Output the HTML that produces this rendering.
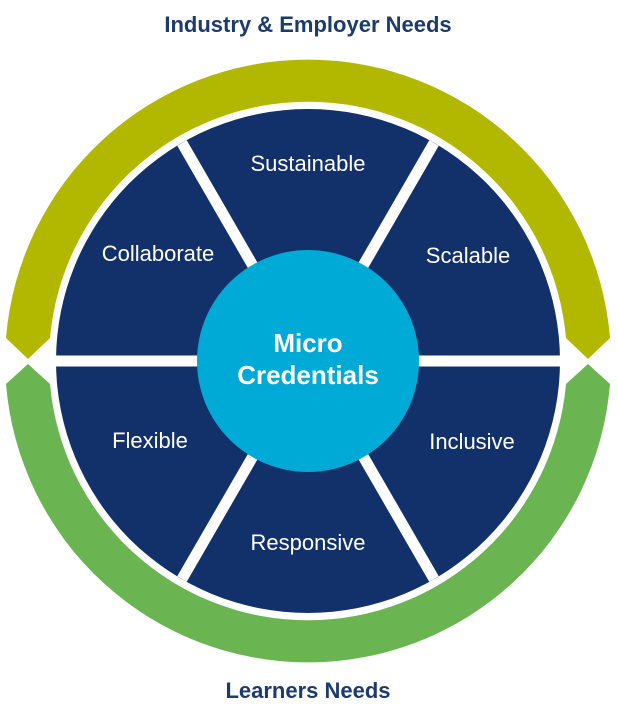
<!DOCTYPE html>
<html><head><meta charset="utf-8"><style>
html,body{margin:0;padding:0;background:#fff;}
svg{display:block}
text{font-family:"Liberation Sans",Arial,sans-serif;}
</style></head><body>
<svg width="617" height="725" viewBox="0 0 617 725" xmlns="http://www.w3.org/2000/svg">
<text x="308" y="32" text-anchor="middle" font-size="22" font-weight="bold" fill="#1b3a6f">Industry &amp; Employer Needs</text>
<text x="308" y="698" text-anchor="middle" font-size="22" font-weight="bold" fill="#1b3a6f">Learners Needs</text>
<path d="M28,359 L6,338 A303,303 0 0 1 610,338 L588,359 L566,338 A259,259 0 0 0 50,338 Z" fill="#b2b800"/>
<path d="M28,364 L6,384 A303,303 0 0 0 610,384 L588,364 L566,384 A259,259 0 0 1 50,384 Z" fill="#6ab451"/>
<circle cx="308" cy="361" r="252" fill="#12316b"/>
<g stroke="#fff" stroke-width="11">
<line x1="50" y1="361" x2="566" y2="361"/>
<line x1="182" y1="143" x2="434" y2="579"/>
<line x1="434" y1="143" x2="182" y2="579"/>
</g>
<circle cx="308" cy="361" r="111" fill="#00aad6"/>
<g fill="#fff" font-size="22" text-anchor="middle">
<text x="308" y="171">Sustainable</text>
<text x="468" y="263">Scalable</text>
<text x="472" y="449">Inclusive</text>
<text x="308" y="550">Responsive</text>
<text x="150" y="448">Flexible</text>
<text x="158" y="261">Collaborate</text>
</g>
<g fill="#fff" font-size="26" font-weight="bold" text-anchor="middle">
<text x="308" y="352">Micro</text>
<text x="308" y="384">Credentials</text>
</g>
</svg>
</body></html>
